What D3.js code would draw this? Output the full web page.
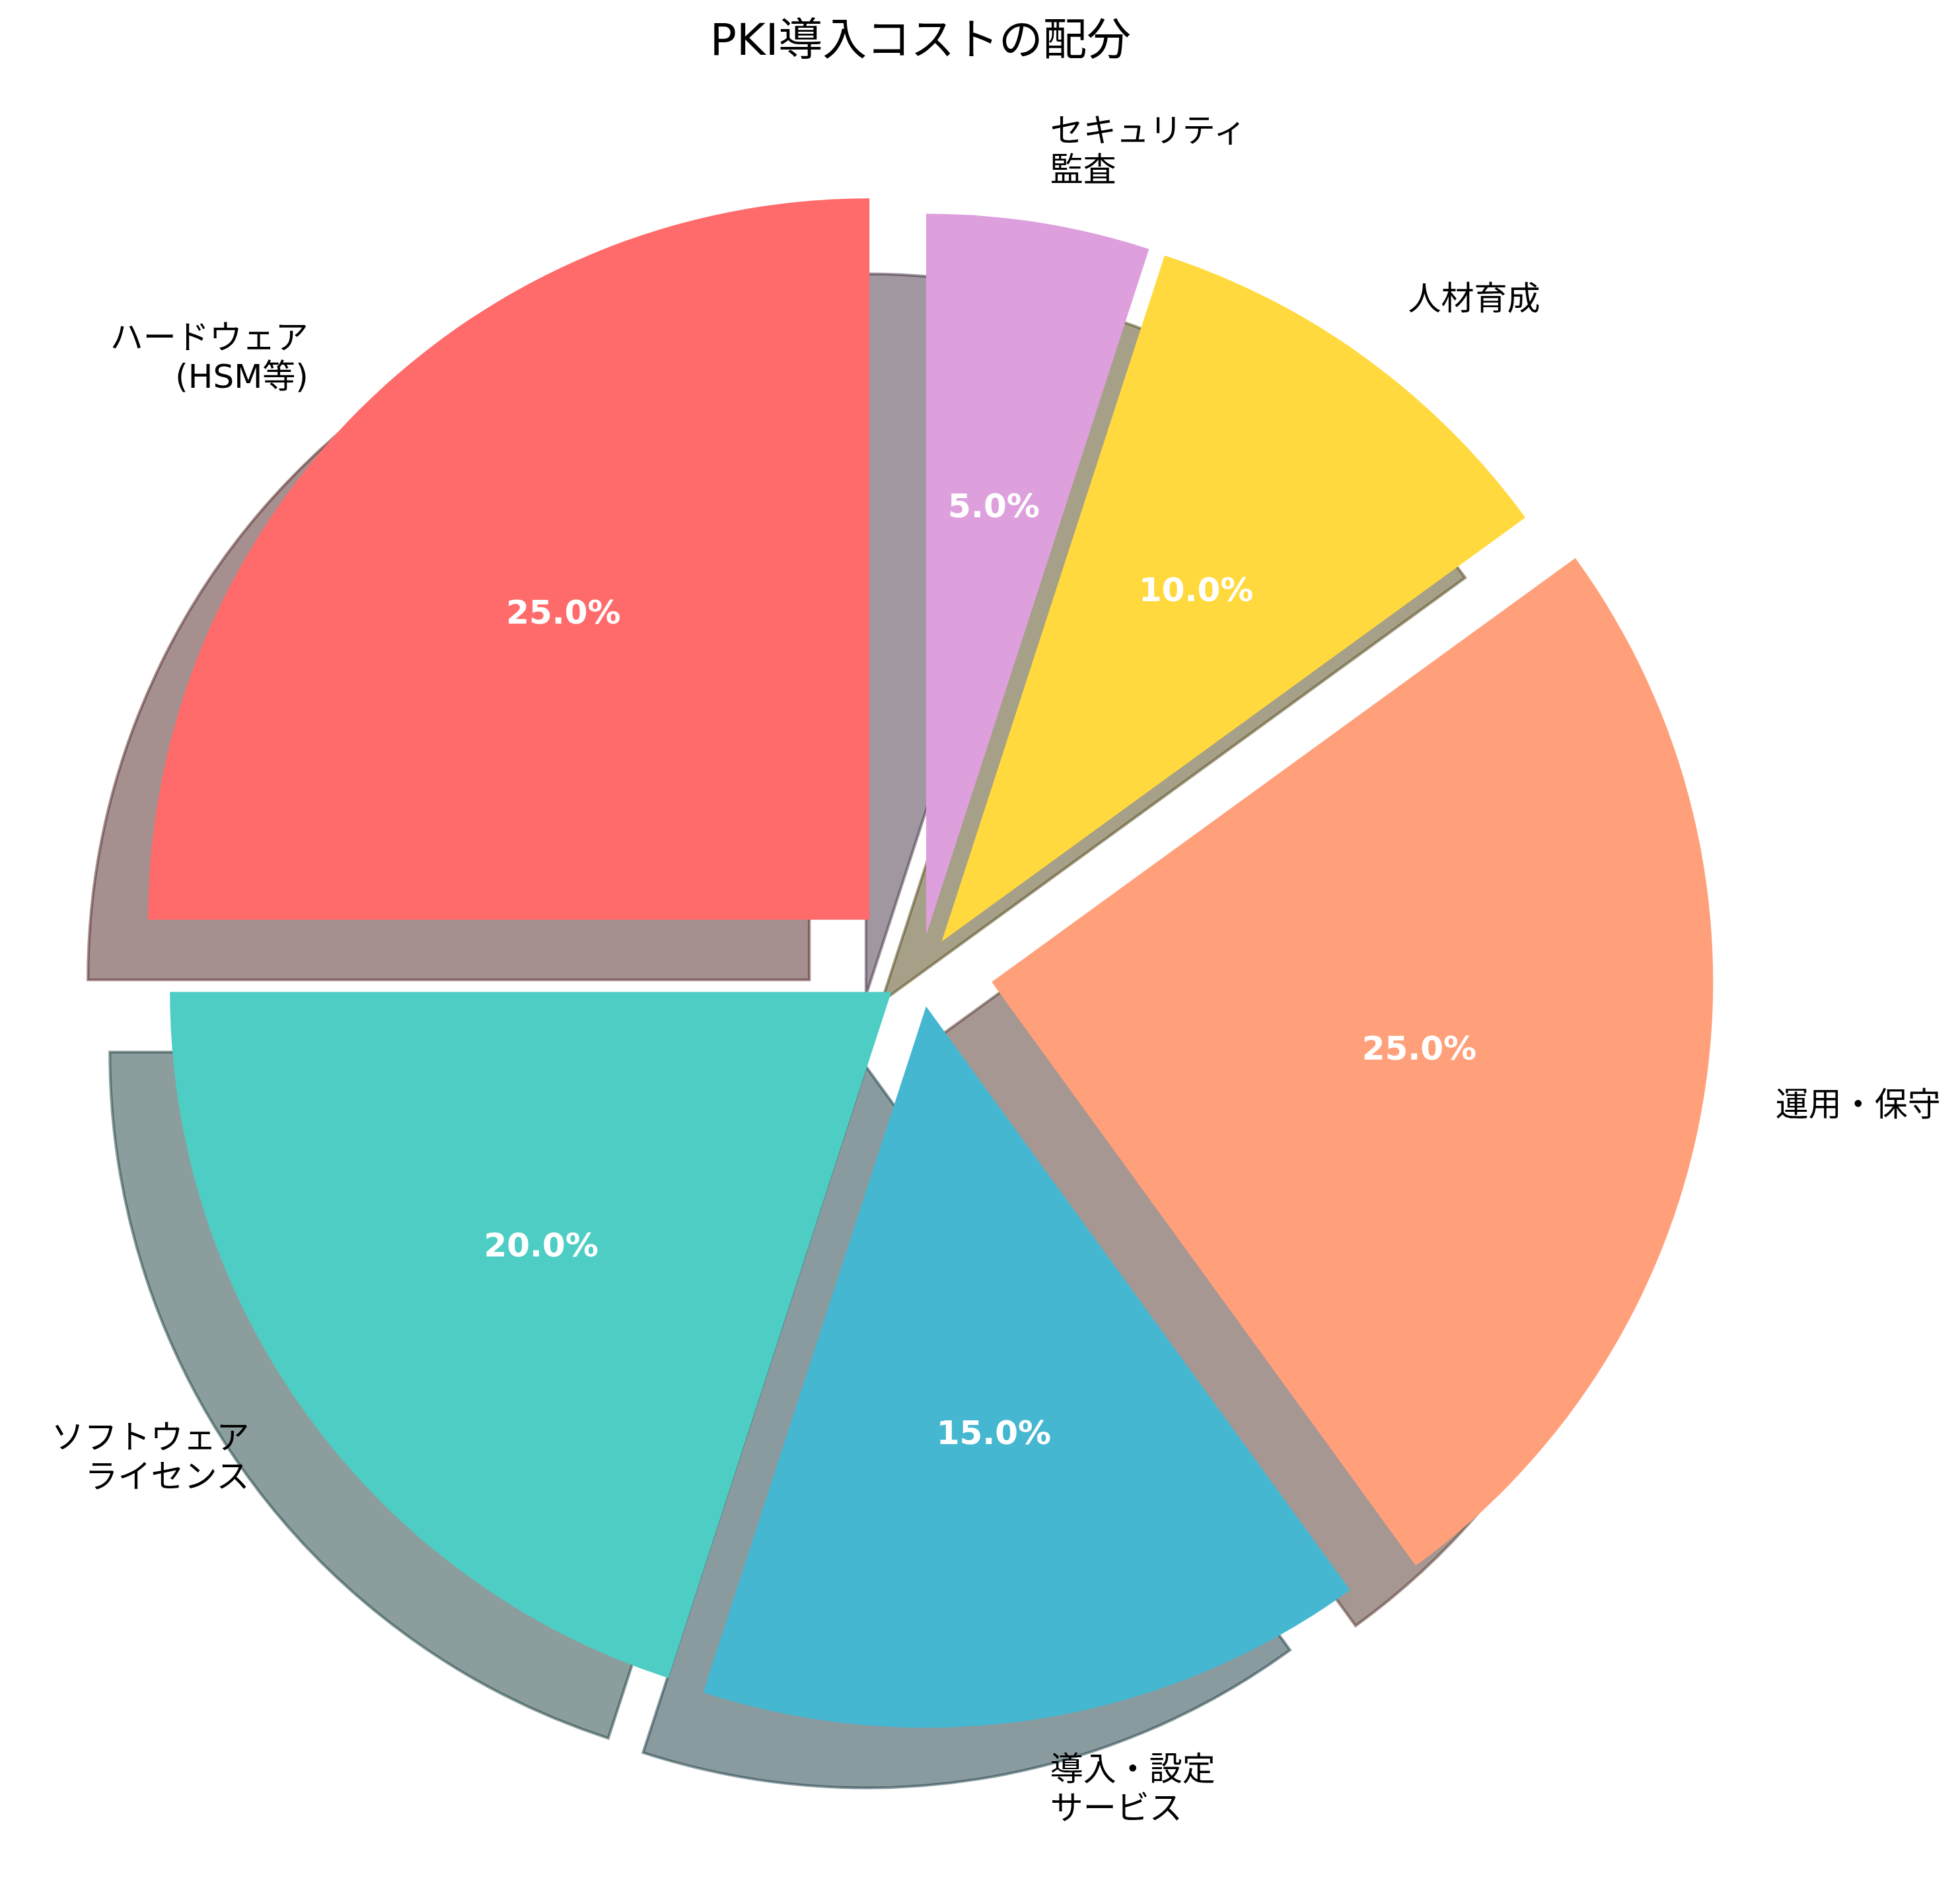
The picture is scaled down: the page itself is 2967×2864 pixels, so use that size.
<!DOCTYPE html>
<html>
<head>
<meta charset="utf-8">
<script src="https://cdn.jsdelivr.net/npm/d3@7"></script>
<style>
  body { margin: 0; background: #ffffff; }
  svg { display: block; }
</style>
</head>
<body>
<svg id="chart"></svg>
<script>
// ---- data ----
const categories = ["ハードウェア\n(HSM等)", "ソフトウェア\nライセンス", "導入・設定\nサービス", "運用・保守", "人材育成", "セキュリティ\n監査"];
const shares = [25, 20, 15, 25, 10, 5];
const explode = [0.1, 0.05, 0.05, 0.1, 0.05, 0.05];
const colors = ["#FF6B6B", "#4ECDC4", "#45B7D1", "#FFA07A", "#FFD93D", "#DDA0DD"];
const chartTitle = "PKI導入コストの配分";

// ---- layout ----
const W = 2967, H = 2864;
const cx = 1393.4, cy = 1469.5, R = 1092;
const shadowShift = 0.02 * 300 / 72;   // matplotlib shadow offset in radius units
const labelDistance = 1.1, pctDistance = 0.6;
const lineStep = 59;
const textFont = "'DejaVu Sans', 'Noto Sans CJK JP', sans-serif";

const r = d3.scaleLinear().domain([0, 1]).range([0, R]);

const svg = d3.select("#chart").attr("width", W).attr("height", H);
svg.append("rect").attr("width", W).attr("height", H).attr("fill", "#ffffff");

const pie = d3.pie().sort(null).value(d => d).startAngle(0).endAngle(-2 * Math.PI);
const arcs = pie(shares).map((a, i) => Object.assign(a, { i }));
const arc = d3.arc().innerRadius(0).outerRadius(r(1));

function mid(a) { return (a.startAngle + a.endAngle) / 2; }
function polar(a, dist) { const m = mid(a); return [Math.sin(m) * r(dist), -Math.cos(m) * r(dist)]; }
function centerOf(a) { const [ex, ey] = polar(a, explode[a.i]); return [cx + ex, cy + ey]; }
function shadowColor(c) { const k = d3.rgb(c); return d3.rgb(k.r * 0.3, k.g * 0.3, k.b * 0.3).toString(); }

// shadows (drawn beneath all wedges)
const gShadow = svg.append("g");
gShadow.selectAll("path").data(arcs).join("path")
  .attr("d", arc)
  .attr("transform", a => { const [x, y] = centerOf(a); return `translate(${x - r(shadowShift)},${y + r(shadowShift)})`; })
  .attr("fill", a => shadowColor(colors[a.i]))
  .attr("fill-opacity", 0.5)
  .attr("stroke", a => shadowColor(colors[a.i]))
  .attr("stroke-opacity", 0.5)
  .attr("stroke-width", 4.17)
  .attr("stroke-linejoin", "miter");

// wedges
const gWedge = svg.append("g");
gWedge.selectAll("path").data(arcs).join("path")
  .attr("d", arc)
  .attr("transform", a => { const [x, y] = centerOf(a); return `translate(${x},${y})`; })
  .attr("fill", a => colors[a.i]);

// percentage labels
const fmt = d3.format(".1f");
svg.append("g").selectAll("text").data(arcs).join("text")
  .attr("x", a => centerOf(a)[0] + polar(a, pctDistance)[0])
  .attr("y", a => centerOf(a)[1] + polar(a, pctDistance)[1] - 2)
  .attr("text-anchor", "middle")
  .attr("dominant-baseline", "central")
  .attr("font-family", "'DejaVu Sans', sans-serif")
  .attr("font-weight", "bold")
  .attr("font-size", 50)
  .attr("fill", "#ffffff")
  .text(a => fmt(a.value) + "%");

// category labels
const gLab = svg.append("g");
arcs.forEach(a => {
  const [x0, y0] = centerOf(a);
  const [dx, dy] = polar(a, labelDistance);
  const x = x0 + dx, y = y0 + dy;
  const lines = categories[a.i].split("\n");
  const n = lines.length;
  const t = gLab.append("text")
    .attr("text-anchor", dx > 0 ? "start" : "end")
    .attr("font-family", textFont)
    .attr("font-size", 50)
    .attr("fill", "#000000");
  lines.forEach((ln, k) => {
    t.append("tspan")
      .attr("x", x)
      .attr("y", y + (k - (n - 1) / 2) * lineStep - 2)
      .attr("dominant-baseline", "central")
      .text(ln);
  });
});

// title
svg.append("text")
  .attr("x", cx)
  .attr("y", 83)
  .attr("text-anchor", "middle")
  .attr("font-family", textFont)
  .attr("font-size", 66.7)
  .attr("fill", "#000000")
  .text(chartTitle);
</script>
</body>
</html>
